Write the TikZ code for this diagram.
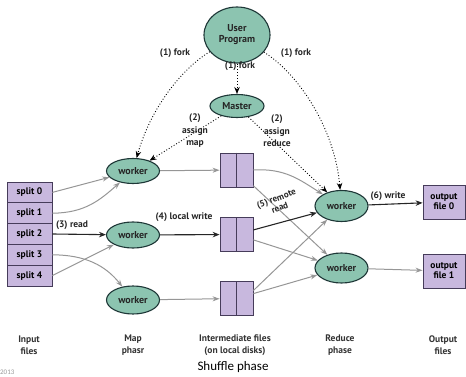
\documentclass[tikz,border=0pt]{standalone}
\usepackage{fontspec}
\setmainfont{PT Sans}
\newfontfamily\shuf{Carlito}
\usetikzlibrary{arrows.meta,shapes.geometric,calc}
\definecolor{tealfill}{RGB}{140,196,176}
\definecolor{tealedge}{RGB}{30,55,55}
\definecolor{boxfill}{RGB}{200,184,222}
\definecolor{boxedge}{RGB}{70,60,90}
\definecolor{arrgray}{RGB}{150,150,150}
\begin{document}
\begin{tikzpicture}[x=1pt,y=-1pt,
  ell/.style={ellipse,draw=tealedge,fill=tealfill,line width=1.1pt,inner sep=0pt,font=\bfseries\fontsize{10}{11}\selectfont,text=black!85},
  splitbox/.style={rectangle,draw=boxedge,fill=boxfill,line width=0.8pt,minimum width=45pt,minimum height=20.8pt,inner sep=0pt,font=\bfseries\fontsize{9.5}{10}\selectfont},
  filebox/.style={rectangle,draw=boxedge,fill=boxfill,line width=0.8pt,minimum width=33pt,minimum height=34pt,inner sep=0pt},
  outbox/.style={rectangle,draw=boxedge,fill=boxfill,line width=0.8pt,minimum width=42pt,minimum height=34pt,inner sep=0pt,align=center,font=\bfseries\fontsize{9.5}{10}\selectfont},
  lbl/.style={font=\bfseries\fontsize{9.5}{10}\selectfont,align=center,inner sep=1pt,text=black!85},
  botlbl/.style={font=\bfseries\fontsize{9.5}{11.5}\selectfont,align=center,inner sep=0pt,text=black!80},
  dotarrow/.style={dotted,line width=0.9pt,-{Stealth[length=7pt,width=5.5pt]}},
  grayarrow/.style={draw=arrgray,line width=1pt,-{Stealth[length=7pt,width=5pt]},arrgray},
  blackarrow/.style={draw=black!85,line width=1.1pt,-{Stealth[length=7pt,width=5.5pt]},black!85}
]
\useasboundingbox (0,0) rectangle (466,377);

% ellipses
\node[ell,minimum width=66pt,minimum height=56pt,align=center,font=\bfseries\fontsize{10}{11}\selectfont] (user) at (237,35) {User\\Program};
\node[ell,minimum width=54pt,minimum height=23pt] (master) at (237,106) {Master};
\node[ell,minimum width=53pt,minimum height=25pt] (mw1) at (133,171) {worker};
\node[ell,minimum width=53pt,minimum height=26pt] (mw2) at (133,235) {worker};
\node[ell,minimum width=53pt,minimum height=28pt] (mw3) at (133,300) {worker};
\node[ell,minimum width=53pt,minimum height=31pt] (rw1) at (341.5,206) {worker};
\node[ell,minimum width=53pt,minimum height=30pt] (rw2) at (341.5,268) {worker};

% splits
\node[splitbox] (s0) at (29.5,192.4) {split 0};
\node[splitbox] (s1) at (29.5,213.2) {split 1};
\node[splitbox] (s2) at (29.5,234.0) {split 2};
\node[splitbox] (s3) at (29.5,254.8) {split 3};
\node[splitbox] (s4) at (29.5,275.6) {split 4};

% intermediate files
\node[filebox] (f1) at (236.5,170) {};
\node[filebox] (f2) at (236.5,234.5) {};
\node[filebox] (f3) at (236.5,298.5) {};
\draw[boxedge,line width=0.8pt] (f1.north) -- (f1.south);
\draw[boxedge,line width=0.8pt] (f2.north) -- (f2.south);
\draw[boxedge,line width=0.8pt] (f3.north) -- (f3.south);

% output files
\node[outbox] (o0) at (444,202) {output\\file 0};
\node[outbox] (o1) at (444,271) {output\\file 1};

% dotted fork/assign arrows
\draw[dotarrow] (user) .. controls (180,70) and (150,110) .. (mw1);
\draw[dotarrow] (user) -- (master);
\draw[dotarrow] (user) .. controls (300,75) and (335,130) .. (rw1);
\draw[dotarrow] (master) -- (mw1);
\draw[dotarrow] (master) -- (rw1);

% input to map
\draw[grayarrow] (s0.east) -- (mw1);
\draw[grayarrow] (s1.east) .. controls (85,213) and (100,200) .. (mw1);
\draw[blackarrow] (s2.east) -- (mw2);
\draw[grayarrow] (s3.east) .. controls (85,255) and (105,265) .. (mw3);
\draw[grayarrow] (s4.east) -- (mw2);

% map to files
\draw[grayarrow] (mw1) -- (f1);
\draw[blackarrow] (mw2) -- (f2);
\draw[grayarrow] (mw3) -- (f3);

% files to reduce
\draw[grayarrow] (f1.east) .. controls (285,168) and (300,180) .. (rw1);
\draw[grayarrow] (f1) -- (rw2);
\draw[blackarrow] (f2) -- (rw1);
\draw[grayarrow] (f2) -- (rw2);
\draw[grayarrow] ($(f3.east)+(0,-8)$) -- (rw1);
\draw[grayarrow] (f3) -- (rw2);

% reduce to output
\draw[blackarrow] (rw1) -- (o0);
\draw[grayarrow] (rw2) -- (o1);

% labels
\node[lbl] (l1) at (175,53) {(1) fork};
\node[lbl] (l2) at (240,66) {(1) fork};
\node[lbl] (l3) at (296,53) {(1) fork};
\node[lbl,font=\bfseries\fontsize{9.5}{12.5}\selectfont] (l4) at (195,131) {(2)\\assign\\map};
\node[lbl,font=\bfseries\fontsize{9.5}{12.5}\selectfont] (l5) at (277,131) {(2)\\assign\\reduce};
\node[lbl] (l6) at (72,225) {(3) read};
\node[lbl] (l7) at (184,217) {(4) local write};
\node[lbl,rotate=20,inner sep=0pt,font=\bfseries\fontsize{9}{10}\selectfont] (l8) at (278,203) {(5) remote\\read};
\node[lbl] (l9) at (388,196) {(6) write};

% bottom labels
\node[botlbl] (b1) at (29,345) {Input\\files};
\node[botlbl] (b2) at (133,345) {Map\\phasr};
\node[botlbl] (b3) at (235,345) {Intermediate files\\(on local disks)};
\node[botlbl] (b4) at (340,345) {Reduce\\phase};
\node[botlbl] (b5) at (443,345) {Output\\files};
\node[font=\shuf\fontsize{13}{14}\selectfont,inner sep=0pt] (sh) at (233,367) {Shuffle phase};
\node[font=\shuf\fontsize{7}{8}\selectfont,text=black!40,inner sep=0pt,anchor=west] (yr) at (0,372) {2013};
\end{tikzpicture}
\end{document}
